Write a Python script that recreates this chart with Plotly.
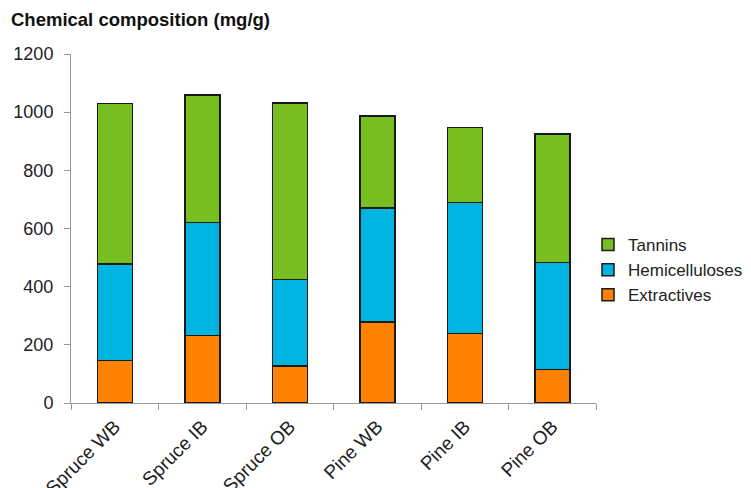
import plotly.graph_objects as go

categories = ["Spruce WB", "Spruce IB", "Spruce OB", "Pine WB", "Pine IB", "Pine OB"]
extractives = [147, 232, 128, 279, 239, 115]
hemicelluloses = [331, 389, 297, 391, 450, 368]
tannins = [551, 438, 607, 316, 259, 442]
y_ticks = [0, 200, 400, 600, 800, 1000, 1200]

series = [
    ("Extractives", extractives, "#FF8200"),
    ("Hemicelluloses", hemicelluloses, "#00B4E1"),
    ("Tannins", tannins, "#78BE20"),
]

fig = go.Figure()
for name, vals, color in series:
    fig.add_trace(go.Bar(
        x=categories, y=vals, name=name, legendgroup=name,
        marker=dict(color=color, line=dict(color="#1a1a1a", width=1.5)),
        width=0.4,
    ))

# the page adds an 8px body margin, so the figure is 743x480 and offsets are compensated
W, H = 743, 480
font_family = "Liberation Sans, Arial, sans-serif"
fig.update_layout(
    barmode="stack",
    width=W, height=H,
    margin=dict(l=63, r=155, t=46, b=85, autoexpand=False),
    paper_bgcolor="white", plot_bgcolor="white",
    font=dict(family=font_family, size=17, color="#222222"),
    showlegend=True,
    legend=dict(
        xref="container", yref="container",
        x=580 / W, xanchor="left", y=1 - 262 / H, yanchor="middle",
        traceorder="reversed", font=dict(size=17, color="#222222"),
        itemwidth=30, tracegroupgap=3,
    ),
    annotations=[dict(
        text="<b>Chemical composition (mg/g)</b>", xref="paper", yref="paper",
        x=-62 / 525, y=1 + 34 / 349, xanchor="left", yanchor="middle",
        showarrow=False, font=dict(size=18.5, color="#111111"),
    )],
)
fig.update_xaxes(
    type="category", showline=True, linecolor="#999999", linewidth=1,
    ticks="outside", tickson="boundaries", ticklen=6, tickcolor="#999999",
    tickangle=-45, showgrid=False, tickfont=dict(size=19),
    automargin=False, ticklabelstandoff=4,
)
fig.update_yaxes(
    range=[0, 1200], tickvals=y_ticks, showline=True, linecolor="#999999",
    linewidth=1, ticks="outside", ticklen=6, tickcolor="#999999",
    showgrid=False, zeroline=False, tickfont=dict(size=18),
    automargin=False, ticklabelstandoff=7,
)

fig.write_html("out.html")
